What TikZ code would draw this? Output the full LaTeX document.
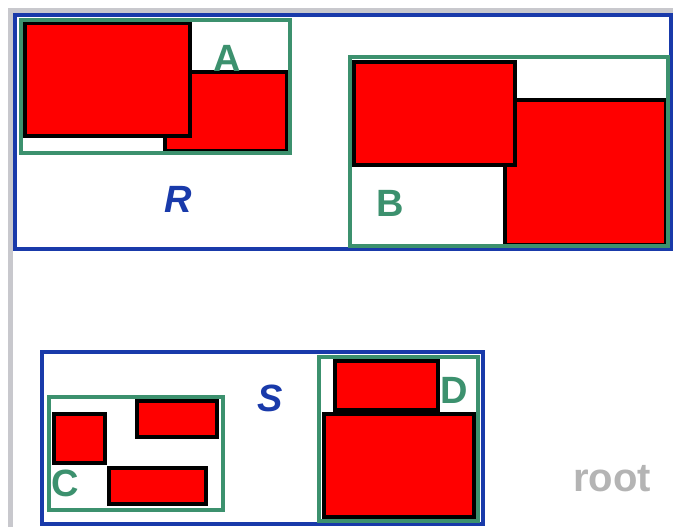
\documentclass[tikz,border=0pt]{standalone}
\usepackage{fontspec}
\setmainfont{Liberation Sans}
\definecolor{rblue}{RGB}{25,58,170}
\definecolor{rgreen}{RGB}{60,145,110}
\definecolor{rgray}{RGB}{200,200,205}
\definecolor{rootgray}{RGB}{180,180,180}
\tikzset{
  bluebox/.style={draw=rblue,line width=4pt},
  greenbox/.style={draw=rgreen,line width=4pt},
  redbox/.style={fill=red,draw=black,line width=4.5pt},
  glabel/.style={text=rgreen,font=\fontsize{38}{40}\selectfont\bfseries,inner sep=0pt},
  blabel/.style={text=rblue,font=\fontsize{38}{40}\selectfont\bfseries\itshape,inner sep=0pt},
}
\begin{document}
\begin{tikzpicture}[x=1pt,y=-1pt]
\useasboundingbox (0,0) rectangle (673,527);
\fill[white] (0,0) rectangle (673,527);
% grey page edges
\fill[rgray] (8,8) rectangle (673,13);
\fill[rgray] (8,8) rectangle (13,527);
% R
\draw[bluebox] (15,15) rectangle (671,249);
\draw[redbox] (165,72) rectangle (287,151);
\draw[redbox] (25,23) rectangle (190,136);
\draw[greenbox] (20.5,20.5) rectangle (290,153);
\draw[redbox] (505,100) rectangle (666,245);
\draw[redbox] (354,62) rectangle (515,165);
\draw[greenbox] (350,57) rectangle (668,246);
% S
\draw[bluebox] (42,352) rectangle (483,524);
\draw[redbox] (54,414) rectangle (105,463);
\draw[redbox] (137,401) rectangle (217,437);
\draw[redbox] (109,468) rectangle (206,504);
\draw[greenbox] (49,397) rectangle (223,510);
\draw[redbox] (324,414) rectangle (474,517);
\draw[redbox] (335,361) rectangle (438,410);
\draw[greenbox] (319,357) rectangle (478,521);
% labels
\node[glabel] (labA) at (227,58) {A};
\node[glabel] (labB) at (390,203) {B};
\node[glabel] (labC) at (65,483) {C};
\node[glabel] (labD) at (454,390) {D};
\node[blabel] (labR) at (178,199) {R};
\node[blabel] (labS) at (270,398) {S};
\node[text=rootgray,font=\fontsize{40}{42}\selectfont\bfseries,inner sep=0pt] (labroot) at (612,479) {root};
\end{tikzpicture}
\end{document}
